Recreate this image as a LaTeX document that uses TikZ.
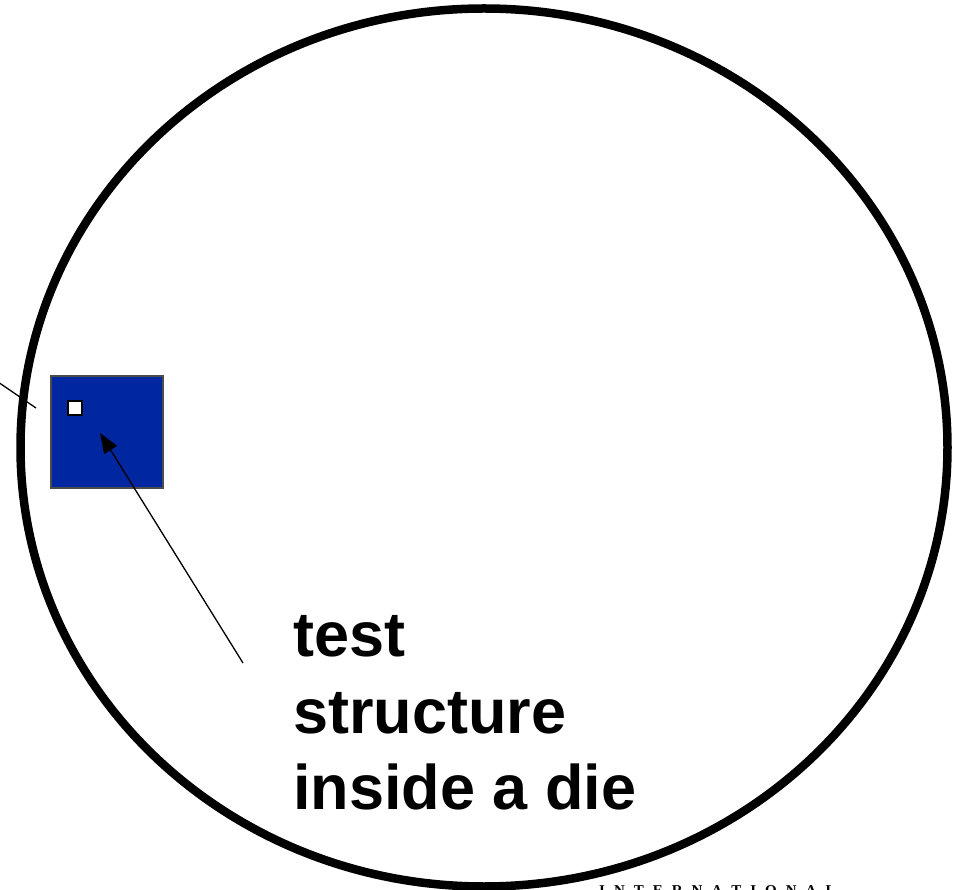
\documentclass[tikz,border=0pt]{standalone}
\usepackage{fontspec}
\setmainfont{Liberation Sans}
\newfontfamily\serifbold{Liberation Serif}[BoldFont={* Bold}]
\usetikzlibrary{arrows.meta}
\definecolor{dieblue}{RGB}{0,38,160}
\tikzset{
  wafer/.style={draw=black, line width=8.5pt},
  diebox/.style={draw=black!70, fill=dieblue, line width=1.2pt, minimum width=112pt, minimum height=112pt, inner sep=0pt, outer sep=0pt},
  teststruct/.style={draw=black, fill=white, line width=1.8pt, minimum width=14pt, minimum height=14pt, inner sep=0pt},
  pointer/.style={draw=black, line width=1.3pt, -{Triangle[length=20pt,width=15pt]}},
  thinline/.style={draw=black, line width=1.3pt},
  label/.style={font=\fontsize{63}{76}\selectfont\bfseries, inner sep=0pt, anchor=base west},
}
\begin{document}
\begin{tikzpicture}[x=1pt,y=-1pt]
\useasboundingbox (0,0) rectangle (954,890);
\draw[wafer] (484,447.5) ellipse [x radius=463.5, y radius=439];
\node[diebox] (die) at (107,432) {};
\node[teststruct] (ts) at (75,408) {};
\coordinate (lA) at (-2,382);
\coordinate (lB) at (36,408);
\draw[thinline] (lA) -- (lB);
\node[label] (l1) at (293,656) {test};
\node[label] (l2) at (293,733) {structure};
\node[label] (l3) at (293,809) {inside a die};
\coordinate (tail) at (243,663);
\coordinate (tip) at (100,433);
\draw[pointer] (tail) -- (tip);
\node[font=\serifbold\bfseries\fontsize{15}{18}\selectfont, inner sep=0pt, anchor=base west] (intl) at (599,895) {I\kern9pt N\kern9pt T\kern9pt E\kern9pt R\kern9pt N\kern9pt A\kern9pt T\kern9pt I\kern9pt O\kern9pt N\kern9pt A\kern9pt L};
\end{tikzpicture}
\end{document}
